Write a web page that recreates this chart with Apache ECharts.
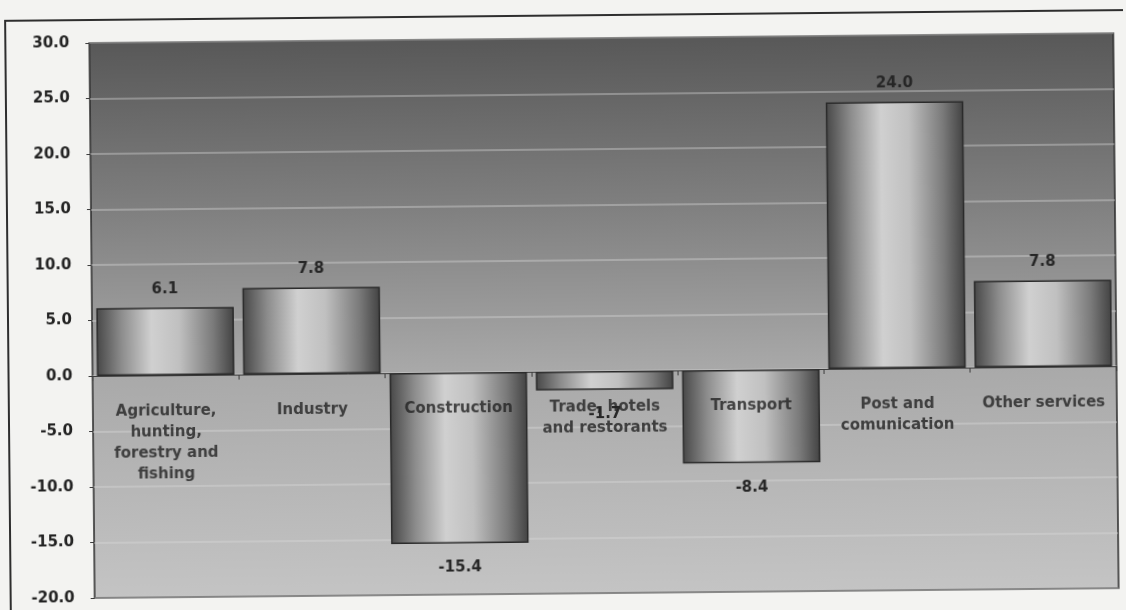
<!DOCTYPE html>
<html>
<head>
<meta charset="utf-8">
<script src="https://cdn.jsdelivr.net/npm/echarts@6/dist/echarts.min.js"></script>
<style>
  html, body { margin: 0; padding: 0; background: #f3f3f1; overflow: hidden; }
  #chart { width: 1126px; height: 610px; transform: rotate(-0.55deg); transform-origin: 92px 320px; }
</style>
</head>
<body>
<div id="chart"></div>
<script>
// Sectors and their growth rates (%)
const categories = [
  'Agriculture,\nhunting,\nforestry and\nfishing',
  'Industry',
  'Construction',
  'Trade, hotels\nand restorants',
  'Transport',
  'Post and\ncomunication',
  'Other services'
];
const values = [6.1, 7.8, -15.4, -1.7, -8.4, 24.0, 7.8];
const yTicks = { min: -20, max: 30, step: 5 };

const font = '"DejaVu Sans", "Liberation Sans", Arial, sans-serif';
const chart = echarts.init(document.getElementById('chart'), null, { renderer: 'canvas' });

// Cylinder-like horizontal shading for each bar
const barFill = new echarts.graphic.LinearGradient(0, 0, 1, 0, [
  { offset: 0, color: '#474747' },
  { offset: 0.18, color: '#8c8c8c' },
  { offset: 0.4, color: '#d0d0d0' },
  { offset: 0.6, color: '#c0c0c0' },
  { offset: 0.85, color: '#7a7a7a' },
  { offset: 1, color: '#424242' }
]);

chart.setOption({
  backgroundColor: 'transparent',
  animation: false,
  graphic: [{
    type: 'rect',
    shape: { x: 8, y: 20, width: 1140, height: 592 },
    style: { fill: 'none', stroke: '#2e2e2e', lineWidth: 2 },
    silent: true,
    z: -1
  }],
  grid: {
    left: 92, right: 10, top: 43, bottom: 12,
    outerBoundsMode: 'none',
    show: true,
    borderColor: '#2a2a2a',
    borderWidth: 1.5,
    backgroundColor: {
      type: 'linear', x: 0, y: 0, x2: 0, y2: 1,
      colorStops: [
        { offset: 0, color: '#585858' },
        { offset: 0.3, color: '#7f7f7f' },
        { offset: 0.6, color: '#a9a9a9' },
        { offset: 1, color: '#c4c4c4' }
      ]
    }
  },
  xAxis: {
    type: 'category',
    data: categories,
    axisLine: { onZero: true, lineStyle: { color: '#3a3a3a', width: 1 } },
    axisTick: { show: true, alignWithLabel: false, length: 5, lineStyle: { color: '#3a3a3a' } },
    axisLabel: { show: false },
    splitLine: { show: false }
  },
  yAxis: {
    type: 'value',
    min: yTicks.min, max: yTicks.max, interval: yTicks.step,
    axisLine: { show: false },
    axisTick: { show: true, length: 4, lineStyle: { color: '#3a3a3a' } },
    axisLabel: {
      margin: 20, fontFamily: font, fontSize: 15, fontWeight: 'bold', color: '#222',
      formatter: v => v.toFixed(1)
    },
    splitLine: { show: true, lineStyle: { color: 'rgba(220,220,220,0.5)', width: 1.5 } }
  },
  series: [{
    type: 'bar',
    data: values.map(v => ({
      value: v,
      label: { position: v >= 0 ? 'top' : 'bottom', distance: v >= 0 ? 11 : 17 }
    })),
    barCategoryGap: '6%',
    itemStyle: { color: barFill, borderColor: '#2a2a2a', borderWidth: 1.5 },
    label: {
      show: true,
      fontFamily: font, fontSize: 15, fontWeight: 'bold', color: '#262626',
      formatter: p => p.value.toFixed(1)
    },
    z: 2
  }, {
    // Category names sit just under the zero line
    type: 'scatter',
    data: categories.map((c, i) => [i, 0]),
    symbolSize: 1,
    itemStyle: { color: 'rgba(0,0,0,0)' },
    label: {
      show: true, position: 'bottom', distance: 25,
      fontFamily: font, fontSize: 15, fontWeight: 'bold', color: '#222',
      lineHeight: 21, align: 'center',
      formatter: p => categories[p.dataIndex]
    },
    silent: true,
    z: 3
  }]
});
</script>
</body>
</html>
